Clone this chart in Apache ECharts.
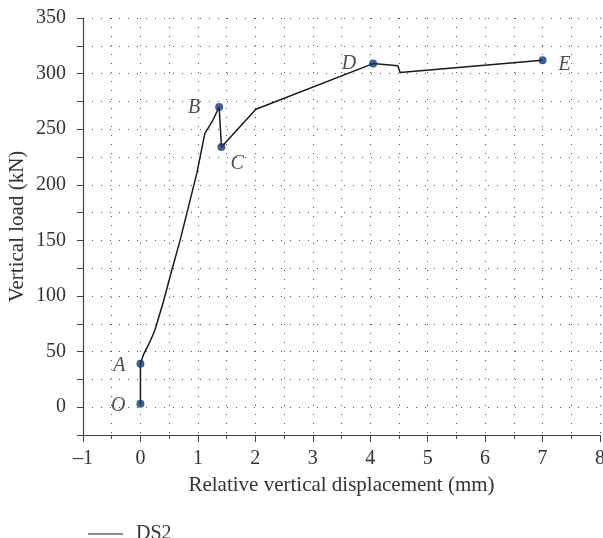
<!DOCTYPE html>
<html>
<head>
<meta charset="utf-8">
<script src="https://cdn.jsdelivr.net/npm/echarts@6/dist/echarts.min.js"></script>
<style>
  html, body { margin: 0; padding: 0; background: #fff; }
  #chart { width: 603px; height: 538px; }
</style>
</head>
<body>
<div id="chart"></div>
<script>
  // curve DS2: relative displacement (mm) vs vertical load (kN)
  var dispX = [0, 0, 0.05, 0.14, 0.25, 0.40, 0.54, 0.69, 0.83, 0.98, 1.12, 1.26, 1.37, 1.41, 2.01, 4.05, 4.48, 4.52, 7.0];
  var loadY = [3, 39, 47, 56, 69, 95, 122, 150, 179, 210, 246, 258, 270, 234, 268, 309, 307, 301, 312];

  // labelled key points
  var keyNames = ['O', 'A', 'B', 'C', 'D', 'E'];
  var keyX = [0, 0, 1.37, 1.41, 4.05, 7.0];
  var keyY = [3, 39, 270, 234, 309, 312];

  var serif = '"Liberation Serif", "DejaVu Serif", serif';
  var dotted = { color: '#555', width: 1, type: [1, 8] };

  var lineData = dispX.map(function (x, i) { return [x, loadY[i]]; });
  var keyData = keyNames.map(function (n, i) {
    var pos = 'left';
    var off = [-6, 2];
    if (n === 'C') { pos = 'right'; off = [0, 17]; }
    if (n === 'E') { pos = 'right'; off = [7, 4]; }
    if (n === 'D') { off = [-8, 0]; }
    if (n === 'B') { off = [-10, 1]; }
    return {
      value: [keyX[i], keyY[i]],
      name: n,
      label: { position: pos, offset: off }
    };
  });

  var chart = echarts.init(document.getElementById('chart'));
  chart.setOption({
    animation: false,
    textStyle: { fontFamily: serif },
    grid: { left: 83, right: 3, top: 18, bottom: 103, containLabel: false, outerBoundsMode: 'none' },
    legend: {
      data: [{ name: 'DS2', icon: 'rect' }],
      left: 83,
      top: 519,
      itemWidth: 35,
      itemHeight: 1.2,
      itemGap: 10,
      textStyle: { fontFamily: serif, fontSize: 20, color: '#333', padding: [0, 0, 0, 8] }
    },
    xAxis: {
      type: 'value',
      min: -1,
      max: 8,
      interval: 1,
      name: 'Relative vertical displacement (mm)',
      nameLocation: 'middle',
      nameGap: 40,
      nameMoveOverlap: false,
      nameTextStyle: { fontFamily: serif, fontSize: 21, color: '#333' },
      axisLine: { onZero: false, lineStyle: { color: '#444', width: 1.2 } },
      axisTick: { length: 7, lineStyle: { color: '#444' } },
      minorTick: { show: true, splitNumber: 2, length: 4, lineStyle: { color: '#444' } },
      axisLabel: { fontFamily: serif, fontSize: 20, color: '#333', margin: 14,
        formatter: function (v) { return v < 0 ? '\u2013' + Math.abs(v) : String(v); } },
      splitLine: { show: true, lineStyle: dotted },
      minorSplitLine: { show: true, lineStyle: dotted }
    },
    yAxis: {
      type: 'value',
      min: -25,
      max: 350,
      interval: 25,
      name: 'Vertical load (kN)',
      nameLocation: 'middle',
      nameGap: 55,
      nameMoveOverlap: false,
      nameTextStyle: { fontFamily: serif, fontSize: 21, color: '#333' },
      axisLine: { show: true, onZero: false, lineStyle: { color: '#444', width: 1.2 } },
      axisTick: { show: true, length: 6, lineStyle: { color: '#444' } },
      axisLabel: { fontFamily: serif, fontSize: 20, color: '#333', margin: 17,
        formatter: function (v) { return v % 50 === 0 ? String(v) : ''; } },
      splitLine: { show: true, lineStyle: dotted }
    },
    series: [
      {
        name: 'DS2',
        type: 'line',
        data: lineData,
        symbol: 'none',
        smooth: false,
        lineStyle: { color: '#1a1a1a', width: 1.5 },
        itemStyle: { color: '#1a1a1a' },
        z: 3
      },
      {
        name: 'points',
        type: 'scatter',
        data: keyData,
        symbolSize: 8,
        itemStyle: { color: '#0d3a7d' },
        label: {
          show: true,
          formatter: '{b}',
          fontFamily: serif,
          fontStyle: 'italic',
          fontSize: 20,
          color: '#222'
        },
        z: 4
      }
    ]
  });
</script>
</body>
</html>
